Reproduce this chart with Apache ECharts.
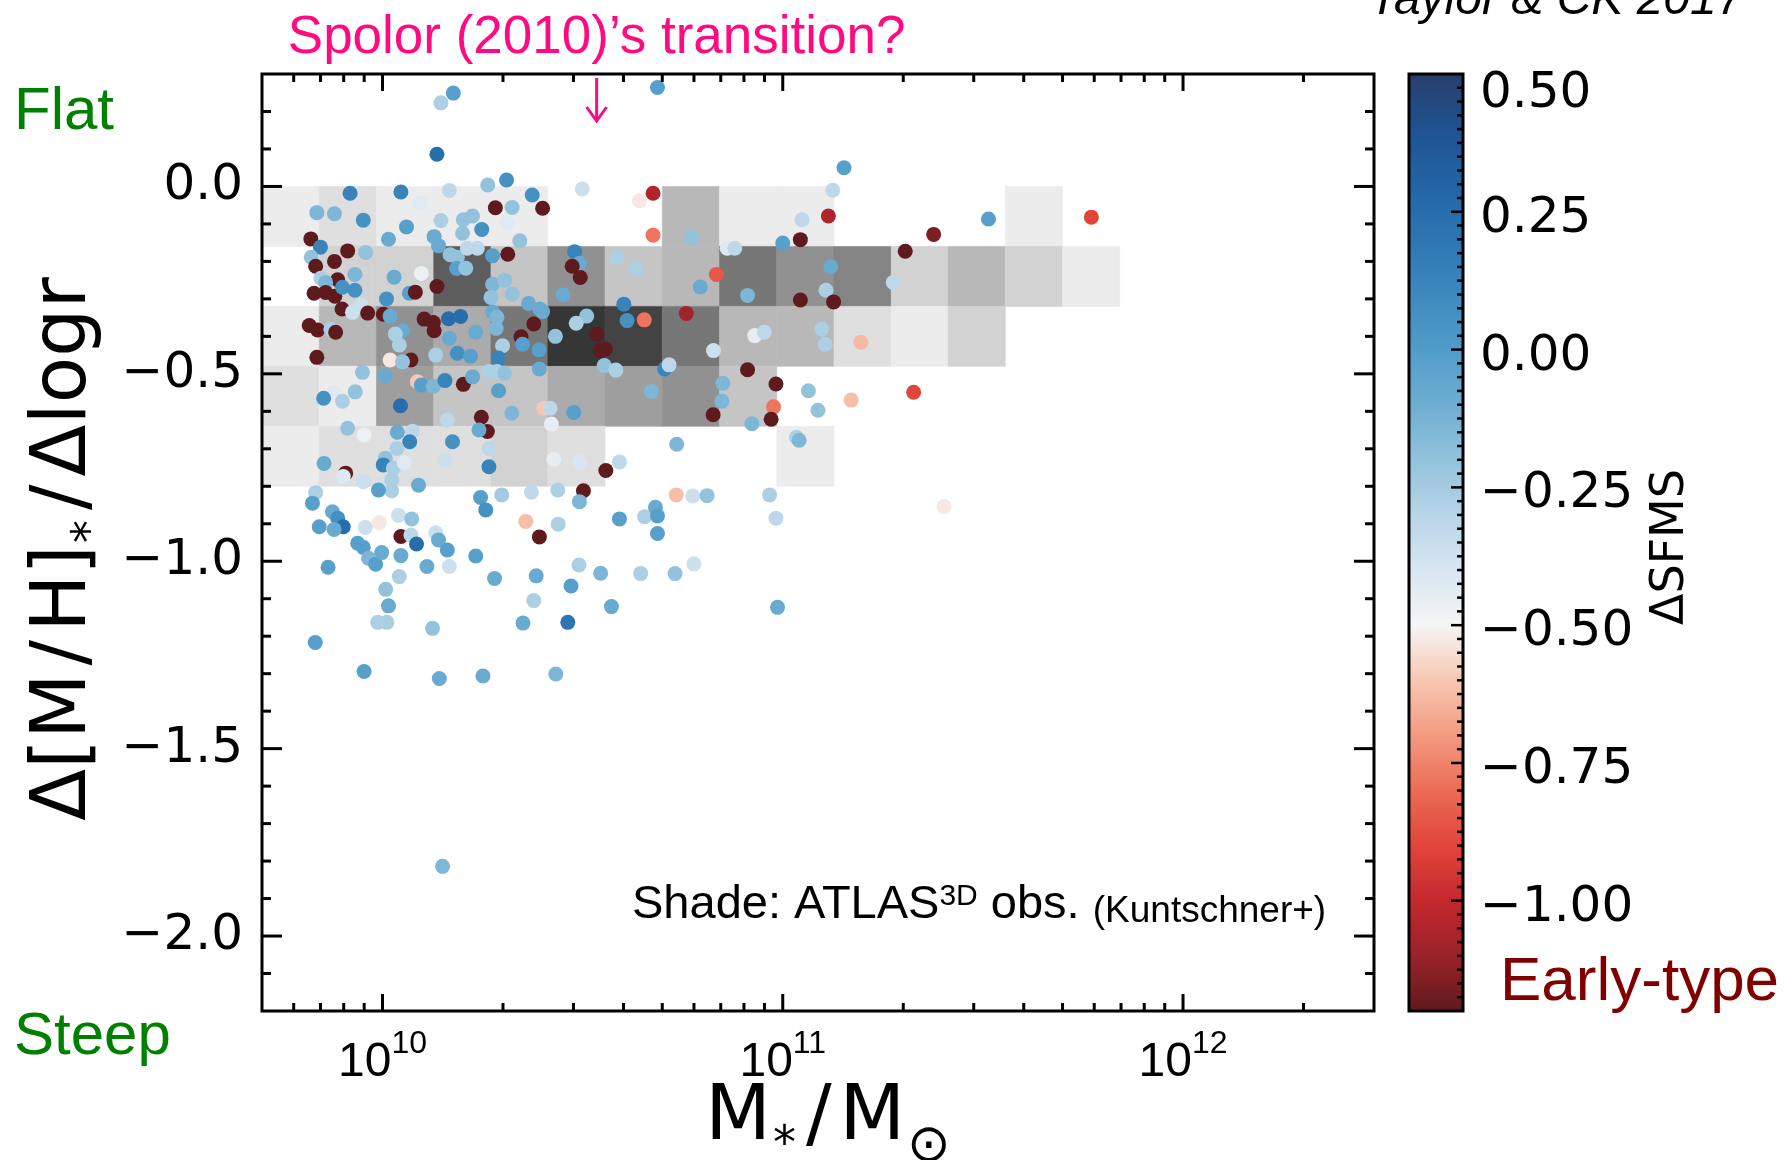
<!DOCTYPE html>
<html>
<head>
<meta charset="utf-8">
<script src="https://cdn.jsdelivr.net/npm/echarts@6/dist/echarts.min.js"></script>
<style>
  html, body { margin: 0; padding: 0; background: #fff; }
  #chart { width: 1792px; height: 1160px; }
</style>
</head>
<body>
<div id="chart"></div>
<script>
// ---------------------------------------------------------------------------
// Galaxy sample: log stellar mass, metallicity gradient, distance from SFMS
// ---------------------------------------------------------------------------
const LOG_MASS = [
  10.177, 10.146, 10.136, 10.263, 9.919, 10.046, 10.167, 10.093, 9.836, 9.880,
  9.952, 10.060, 10.146, 10.202, 10.225, 10.248, 10.200, 10.282, 10.015, 10.129,
  10.140, 9.821, 9.845, 9.822, 9.913, 9.958, 9.833, 9.880, 10.169, 10.187,
  10.212, 10.237, 10.185, 10.208, 10.275, 9.931, 9.888, 9.846, 9.858, 10.029,
  10.097, 10.136, 9.829, 9.858, 9.881, 9.900, 9.931, 10.010, 10.067, 10.082,
  10.275, 10.271, 9.899, 9.925, 9.946, 9.963, 10.002, 10.019, 10.104, 10.127,
  10.165, 10.195, 9.817, 9.838, 9.871, 10.050, 10.129, 10.233, 10.275, 9.883,
  10.032, 10.167, 9.836, 10.019, 10.071, 10.133, 10.187, 10.220, 10.042, 10.050,
  9.950, 10.007, 10.087, 10.097, 10.127, 10.156, 10.202, 10.225, 10.266, 9.878,
  9.900, 9.932, 9.853, 10.045, 10.162, 10.247, 10.262, 10.241, 9.913, 9.954,
  10.037, 10.075, 10.068, 10.175, 10.036, 9.854, 9.908, 9.902, 10.007, 10.002,
  10.027, 10.054, 10.157, 10.266, 10.266, 9.952, 10.023, 10.023, 9.990, 10.090,
  9.833, 9.825, 9.875, 9.888, 9.902, 9.879, 9.842, 9.957, 9.992, 10.040,
  10.073, 10.046, 10.071, 10.085, 10.133, 10.140, 10.162, 10.245, 10.258, 9.938,
  9.952, 9.965, 9.983, 9.998, 10.046, 9.864, 10.111, 10.167, 10.233, 10.042,
  10.008, 10.015, 9.988, 10.011, 10.125, 10.280, 9.832, 9.954, 10.142, 10.251,
  10.150, 10.687, 10.310, 10.499, 10.374, 10.324, 10.400, 10.311, 10.343, 10.642,
  10.676, 10.676, 10.772, 10.861, 10.880, 11.000, 11.044, 11.048, 10.313, 10.480,
  10.492, 10.474, 10.494, 10.586, 10.633, 10.834, 10.794, 10.912, 11.044, 10.305,
  10.324, 10.451, 10.365, 10.393, 10.400, 10.603, 10.510, 10.484, 10.611, 10.654,
  10.759, 10.286, 10.284, 10.378, 10.346, 10.350, 10.300, 10.391, 10.290, 10.432,
  10.536, 10.557, 10.544, 10.554, 10.583, 10.705, 10.716, 10.827, 10.930, 10.954,
  10.912, 10.983, 10.977, 10.971, 11.064, 10.850, 10.848, 10.826, 10.286, 10.305,
  10.392, 10.290, 10.323, 10.403, 10.419, 10.478, 10.672, 10.422, 10.923, 11.171,
  11.327, 11.088, 10.428, 10.492, 10.558, 10.592, 10.735, 11.034, 11.041, 10.298,
  10.372, 10.438, 10.502, 10.492, 10.734, 10.775, 10.811, 10.967, 10.983, 11.403,
  10.358, 10.392, 10.439, 10.592, 10.655, 10.682, 10.687, 10.687, 10.491, 10.545,
  10.645, 10.731, 10.778, 10.384, 10.471, 10.378, 10.572, 10.351, 10.463, 10.987,
  10.433, 11.306, 11.377, 11.514, 11.771, 11.276, 11.153, 11.125, 11.114, 11.120,
  11.108, 11.127, 11.097, 11.106, 11.195
];

const METAL_GRADIENT = [
  0.249, 0.223, 0.086, 0.004, -0.018, -0.015, -0.011, -0.045, -0.070, -0.073,
  -0.090, -0.108, -0.091, -0.089, -0.079, -0.115, -0.125, -0.057, -0.141, -0.134,
  -0.158, -0.140, -0.162, -0.189, -0.172, -0.176, -0.213, -0.200, -0.182, -0.189,
  -0.165, -0.165, -0.219, -0.218, -0.185, -0.235, -0.249, -0.245, -0.256, -0.242,
  -0.232, -0.267, -0.285, -0.283, -0.293, -0.269, -0.277, -0.300, -0.285, -0.282,
  -0.261, -0.296, -0.327, -0.336, -0.317, -0.338, -0.341, -0.346, -0.354, -0.363,
  -0.353, -0.347, -0.371, -0.383, -0.381, -0.385, -0.385, -0.389, -0.335, -0.389,
  -0.394, -0.405, -0.456, -0.463, -0.463, -0.450, -0.445, -0.453, -0.423, -0.468,
  -0.496, -0.505, -0.521, -0.530, -0.533, -0.518, -0.528, -0.508, -0.494, -0.549,
  -0.573, -0.548, -0.565, -0.585, -0.623, -0.616, -0.654, -0.650, -0.645, -0.663,
  -0.656, -0.653, -0.681, -0.681, -0.699, -0.739, -0.765, -0.774, -0.725, -0.743,
  -0.752, -0.737, -0.730, -0.748, -0.699, -0.788, -0.783, -0.812, -0.810, -0.797,
  -0.817, -0.845, -0.868, -0.885, -0.908, -0.915, -0.908, -0.910, -0.897, -0.877,
  -0.887, -0.934, -0.930, -0.954, -0.924, -0.943, -0.970, -0.830, -0.863, -0.952,
  -0.963, -0.992, -1.008, -0.977, -0.985, -1.016, -1.014, -1.014, -0.986, -1.041,
  -1.075, -1.119, -1.163, -1.163, -1.179, -1.046, -1.217, -1.294, -1.313, -1.306,
  -1.814, 0.264, 0.017, -0.007, -0.023, -0.056, -0.058, -0.096, -0.145, -0.038,
  -0.018, -0.130, -0.136, -0.165, -0.165, -0.151, -0.142, -0.089, -0.181, -0.174,
  -0.205, -0.213, -0.243, -0.190, -0.221, -0.235, -0.268, -0.291, -0.303, -0.250,
  -0.287, -0.289, -0.312, -0.327, -0.334, -0.314, -0.346, -0.365, -0.358, -0.356,
  -0.339, -0.349, -0.379, -0.367, -0.401, -0.421, -0.425, -0.436, -0.458, -0.400,
  -0.394, -0.434, -0.438, -0.478, -0.490, -0.487, -0.476, -0.438, -0.398, -0.389,
  -0.489, -0.527, -0.588, -0.621, -0.545, -0.525, -0.573, -0.609, -0.494, -0.498,
  -0.487, -0.545, -0.605, -0.592, -0.592, -0.603, -0.547, -0.634, -0.633, -0.570,
  -0.549, -0.597, -0.728, -0.736, -0.758, -0.735, -0.688, -0.669, -0.677, -0.823,
  -0.816, -0.810, -0.812, -0.841, -0.823, -0.826, -0.825, -0.823, -0.885, -0.854,
  -0.894, -0.935, -0.901, -0.887, -0.881, -0.856, -0.879, -0.926, -1.010, -1.032,
  -1.033, -1.033, -1.007, -1.039, -1.066, -1.105, -1.121, -1.165, -1.163, -1.123,
  -1.301, -0.173, -0.128, -0.087, -0.082, -0.256, 0.050, -0.010, -0.079, -0.214,
  -0.277, -0.308, -0.381, -0.421, -0.416
];

const DELTA_SFMS = [
  -0.02, -0.27, 0.25, -0.2, 0.13, 0.13, -0.32, -0.42, -0.14, -0.14,
  0.06, -0.02, -0.27, -0.2, -0.2, 0.06, -0.2, -1.2, -0.08, -0.08,
  -0.08, -1.2, 0.13, -0.2, -1.2, -0.2, -1.2, -1.2, -0.2, -0.2,
  -0.32, -0.32, -0.02, -0.2, -0.02, -0.14, -1.2, -0.27, -0.14, -0.08,
  -0.47, -1.2, -1.2, -1.2, -1.2, 0.06, 0.06, 0.06, -0.02, -1.2,
  -0.14, -0.2, -1.2, -0.36, -0.36, -1.2, -1.2, -0.08, -1.2, -1.2,
  0.25, 0.25, -1.2, -1.2, -0.27, -0.08, -1.2, -0.08, -0.08, -1.2,
  -0.27, -0.08, -1.2, -0.53, -1.2, -0.27, 0.06, -0.02, -0.27, -0.2,
  -0.2, -0.08, -0.6, -0.02, -0.14, 0.13, -1.2, -0.08, -0.27, -0.42,
  -0.27, -0.2, 0.06, 0.25, -0.32, -1.2, -1.2, -0.08, -0.2, -0.47,
  -0.08, -0.32, 0.13, 0.06, -0.27, -0.08, -1.2, -0.42, -0.2, 0.13,
  -0.27, -0.42, -0.36, 0.13, -0.32, -0.36, -0.27, -0.27, -0.02, -0.08,
  -0.27, -0.02, -0.08, 0.06, 0.25, -0.08, -0.02, -0.36, -0.53, -0.36,
  -0.2, -1.2, -0.32, 0.25, -0.36, -0.08, -0.02, -0.02, 0.06, -0.02,
  -0.02, -0.14, -0.02, -0.08, -0.08, -0.02, -0.08, -0.36, -0.02, -0.27,
  -0.2, -0.08, -0.27, -0.27, -0.2, -0.08, -0.02, -0.02, -0.08, -0.08,
  -0.14, -0.02, 0.06, -0.36, 0.06, -0.2, -1.2, -0.42, -0.2, -0.53,
  -1.05, -0.78, -0.2, -0.42, -0.32, -0.02, -1.2, -0.32, -1.2, 0.13,
  -0.08, -1.2, -1.2, -0.27, -0.27, -0.85, -0.08, -0.14, -1.2, -0.2,
  -0.2, -0.08, -0.08, -0.08, -0.08, 0.13, -0.2, -0.27, 0.06, -0.78,
  -1.08, -0.14, -0.14, -1.2, -1.2, -0.02, -0.27, -0.02, 0.13, -0.2,
  -1.2, -1.2, -1.2, -0.2, -0.27, 0.13, -0.32, -0.36, -0.45, -0.32,
  -1.2, -1.2, -0.78, -1.2, -0.2, -0.14, -0.14, -1.2, -0.27, -0.2,
  -0.08, -0.02, -0.14, -0.6, -0.32, -0.02, -0.14, -0.45, -0.14, -0.62,
  -0.9, -0.2, -0.45, -0.4, -1.2, -0.32, -0.14, -0.27, -0.14, -0.24,
  -0.32, -0.27, -1.2, -0.14, -0.62, -0.36, -0.2, -0.27, -0.32, -0.53,
  -0.62, -1.2, -0.27, -0.02, -0.27, -0.08, -0.02, -0.02, -0.27, -0.14,
  -0.27, -0.2, -0.36, -0.08, -0.02, -0.27, -0.08, -0.08, 0.2, -0.08,
  -0.14, -1.2, -1.15, -0.02, -0.9, -0.32, -0.02, -0.32, -1.05, -0.08,
  -0.27, -1.2, -0.27, -0.27, -0.63
];

// ATLAS3D observed distribution (2D histogram counts, shaded grey)
const MASS_BIN_EDGES = [9.699, 9.842, 9.985, 10.128, 10.271, 10.413, 10.556, 10.699,
                        10.842, 10.985, 11.128, 11.271, 11.413, 11.556, 11.699, 11.842];
const GRADIENT_BIN_EDGES = [0.0, -0.16, -0.32, -0.48, -0.64, -0.80];
const HIST_COUNTS = [
  [1, 2, 1, 1, 1, 0, 0, 5, 1, 1, 0, 0, 0, 1, 0],
  [0, 3, 3, 12, 4, 8, 4, 5, 10, 8, 9, 3, 5, 3, 1],
  [1, 5, 8, 6, 10, 15, 14, 10, 5, 5, 2, 1, 3, 0, 0],
  [2, 1, 7, 4, 4, 6, 7, 8, 4, 0, 0, 0, 0, 0, 0],
  [1, 2, 2, 2, 3, 2, 0, 0, 0, 1, 0, 0, 0, 0, 0]
];

// Axis ranges
const X_RANGE = [Math.log10(5e9), Math.log10(3e12)];
const Y_RANGE = [-2.2, 0.3];
const CBAR_RANGE = [-1.2, 0.5];
const Y_MAJOR_LABELS = [0.0, -0.5, -1.0, -1.5, -2.0];
const CBAR_LABELS = [0.5, 0.25, 0.0, -0.25, -0.5, -0.75, -1.0];
const TRANSITION_LOG_MASS = 10.535;

// Diverging colour table, evenly spaced from -1.2 (bottom) to 0.5 (top)
const CMAP = ['#5e1a1d', '#9b2229', '#c4282e', '#e1453a', '#ec6b55', '#f39a80',
              '#f8c7b2', '#f5f5f5', '#d8e6f1', '#b8d5e8', '#93c2dc', '#6eaed2',
              '#519cc9', '#3d89be', '#2d76b2', '#2264a4', '#1f5290', '#283d6d'];

const NUM_FONT = '"DejaVu Sans", sans-serif';
const SANS_FONT = '"Liberation Sans", Arial, sans-serif';

// ---------------------------------------------------------------------------
const scatterData = LOG_MASS.map((m, i) => [m, METAL_GRADIENT[i], DELTA_SFMS[i]]);

const cellData = [];
HIST_COUNTS.forEach((row, j) => {
  row.forEach((n, i) => {
    if (n > 0) {
      cellData.push([MASS_BIN_EDGES[i], GRADIENT_BIN_EDGES[j],
                     MASS_BIN_EDGES[i + 1], GRADIENT_BIN_EDGES[j + 1], n]);
    }
  });
});

// tick positions along the log-mass axis: 2..9 x 10^n minor, 10^n major
const X_TICKS = [];
for (let e = 9; e <= 12; e++) {
  for (let k = 1; k <= 9; k++) {
    const v = e + Math.log10(k);
    if (v > X_RANGE[0] + 1e-6 && v < X_RANGE[1] - 1e-6) X_TICKS.push({ v, major: k === 1, exp: e });
  }
}
const Y_TICKS = [];
for (let i = -21; i <= 2; i++) Y_TICKS.push({ v: i / 10, major: i % 5 === 0 });
const CBAR_TICKS = [];
for (let i = -47; i <= 19; i++) CBAR_TICKS.push({ v: i * 0.025, major: i % 10 === 0 });

function minusFmt(v, digits) {
  const s = Math.abs(v).toFixed(digits);
  return v < -1e-9 ? '\u2212' + s : s;
}

function renderCell(params, api) {
  const p0 = api.coord([api.value(0), api.value(1)]);
  const p1 = api.coord([api.value(2), api.value(3)]);
  const g = Math.round(249 - 13 * api.value(4));
  const c = 'rgb(' + g + ',' + g + ',' + g + ')';
  return {
    type: 'rect',
    shape: {
      x: Math.min(p0[0], p1[0]), y: Math.min(p0[1], p1[1]),
      width: Math.abs(p1[0] - p0[0]), height: Math.abs(p1[1] - p0[1])
    },
    style: { fill: c, stroke: c, lineWidth: 0.6 }
  };
}

function renderFrame(params, api) {
  const cs = params.coordSys;
  const L = cs.x, T = cs.y, R = cs.x + cs.width, B = cs.y + cs.height;
  const st = { stroke: '#000', lineWidth: 3 };
  const kids = [];
  X_TICKS.forEach(t => {
    const px = api.coord([t.v, Y_RANGE[0]])[0];
    const len = t.major ? 17 : 8;
    kids.push({ type: 'line', shape: { x1: px, y1: B, x2: px, y2: B - len }, style: st });
    kids.push({ type: 'line', shape: { x1: px, y1: T, x2: px, y2: T + len }, style: st });
    if (t.major) {
      kids.push({
        type: 'text', x: px, y: B + 52,
        style: {
          text: '{b|10}{s|' + t.exp + '}', align: 'center', verticalAlign: 'middle',
          rich: {
            b: { fontSize: 48, fontFamily: SANS_FONT, fill: '#000', verticalAlign: 'middle' },
            s: { fontSize: 32, fontFamily: SANS_FONT, fill: '#000', verticalAlign: 'middle', padding: [0, 0, 38, 0] }
          }
        }
      });
    }
  });
  Y_TICKS.forEach(t => {
    const py = api.coord([X_RANGE[0], t.v])[1];
    const len = t.major ? 20 : 9;
    kids.push({ type: 'line', shape: { x1: L, y1: py, x2: L + len, y2: py }, style: st });
    kids.push({ type: 'line', shape: { x1: R, y1: py, x2: R - len, y2: py }, style: st });
  });
  Y_MAJOR_LABELS.forEach(v => {
    const py = api.coord([X_RANGE[0], v])[1];
    kids.push({
      type: 'text', x: L - 19, y: py,
      style: { text: minusFmt(v, 1), fontSize: 50, fontFamily: NUM_FONT, fill: '#000',
               align: 'right', verticalAlign: 'middle' }
    });
  });
  kids.push({ type: 'rect', shape: { x: L, y: T, width: R - L, height: B - T },
              style: { fill: 'transparent', stroke: '#000', lineWidth: 3 } });
  return { type: 'group', children: kids };
}

function renderTransition(params, api) {
  const cs = params.coordSys;
  const T = cs.y;
  const px = api.coord([api.value(0), api.value(1)])[0];
  const col = '#ff0a80';
  const st = { stroke: col, lineWidth: 3, fill: 'transparent' };
  return {
    type: 'group',
    children: [
      { type: 'line', shape: { x1: px, y1: T + 4, x2: px, y2: T + 47 }, style: st },
      { type: 'polyline', shape: { points: [[px - 10, T + 33], [px, T + 47], [px + 10, T + 33]] }, style: st },
      { type: 'text', x: px, y: T - 36,
        style: { text: 'Spolor (2010)\u2019s transition?', fontSize: 53, fontFamily: SANS_FONT,
                 fill: col, align: 'center', verticalAlign: 'middle' } }
    ]
  };
}

function renderColorbar(params, api) {
  const cs = params.coordSys;
  const L = cs.x, T = cs.y, R = cs.x + cs.width, B = cs.y + cs.height;
  const stops = CMAP.map((c, i) => ({ offset: i / (CMAP.length - 1), color: c }));
  const kids = [{
    type: 'rect', shape: { x: L, y: T, width: R - L, height: B - T },
    style: { fill: new echarts.graphic.LinearGradient(0, 1, 0, 0, stops) }
  }];
  const st = { stroke: '#000', lineWidth: 2.5 };
  CBAR_TICKS.forEach(t => {
    const py = api.coord([0, t.v])[1];
    const len = t.major ? 11 : 5;
    kids.push({ type: 'line', shape: { x1: R - 1, y1: py, x2: R - 1 - len, y2: py }, style: st });
  });
  kids.push({ type: 'rect', shape: { x: L, y: T, width: R - L, height: B - T },
              style: { fill: 'transparent', stroke: '#000', lineWidth: 3 } });
  CBAR_LABELS.forEach(v => {
    const py = api.coord([0, v])[1];
    const atTop = Math.abs(v - CBAR_RANGE[1]) < 1e-9;
    kids.push({
      type: 'text', x: R + 17, y: atTop ? T + 20 : py + 7,
      style: { text: minusFmt(v, 2), fontSize: 50, fontFamily: NUM_FONT, fill: '#000',
               align: 'left', verticalAlign: 'middle' }
    });
  });
  return { type: 'group', children: kids };
}

const chart = echarts.init(document.getElementById('chart'), null, { renderer: 'canvas' });

const hiddenAxis = {
  axisLine: { show: false }, axisTick: { show: false },
  axisLabel: { show: false }, splitLine: { show: false }
};

const titleRich = {
  m: { fontSize: 76, fontFamily: NUM_FONT, fill: '#000', verticalAlign: 'middle' },
  d: { fontSize: 76, fontFamily: NUM_FONT, fill: '#000', verticalAlign: 'middle', padding: [0, 8, 0, 8] },
  s: { fontSize: 46, fontFamily: NUM_FONT, fill: '#000', verticalAlign: 'middle', padding: [54, 2, 0, 2] },
  o: { fontSize: 52, fontFamily: NUM_FONT, fill: '#000', verticalAlign: 'middle', padding: [56, 0, 0, 2] }
};

chart.setOption({
  animation: false,
  backgroundColor: '#fff',
  grid: [
    { left: 262, top: 74, width: 1112, height: 937, show: false },
    { left: 1409, top: 74, width: 54, height: 937, show: false }
  ],
  xAxis: [
    Object.assign({ type: 'value', gridIndex: 0, min: X_RANGE[0], max: X_RANGE[1] }, hiddenAxis),
    Object.assign({ type: 'value', gridIndex: 1, min: 0, max: 1 }, hiddenAxis)
  ],
  yAxis: [
    Object.assign({ type: 'value', gridIndex: 0, min: Y_RANGE[0], max: Y_RANGE[1] }, hiddenAxis),
    Object.assign({ type: 'value', gridIndex: 1, min: CBAR_RANGE[0], max: CBAR_RANGE[1] }, hiddenAxis)
  ],
  visualMap: [{
    type: 'continuous', show: false, seriesIndex: 1, dimension: 2,
    min: CBAR_RANGE[0], max: CBAR_RANGE[1], inRange: { color: CMAP }
  }],
  series: [
    {
      type: 'custom', name: 'ATLAS3D', xAxisIndex: 0, yAxisIndex: 0, z: 1,
      dimensions: ['m0', 'g0', 'm1', 'g1', 'n'],
      encode: { x: [0, 2], y: [1, 3] },
      renderItem: renderCell, data: cellData, silent: true
    },
    {
      type: 'scatter', name: 'galaxies', xAxisIndex: 0, yAxisIndex: 0, z: 2,
      symbol: 'circle', symbolSize: 15,
      itemStyle: { opacity: 1, borderWidth: 0 },
      data: scatterData, silent: true
    },
    {
      type: 'custom', name: 'frame', xAxisIndex: 0, yAxisIndex: 0, z: 5, clip: false,
      renderItem: renderFrame, data: [[X_RANGE[0], Y_RANGE[0]]], silent: true
    },
    {
      type: 'custom', name: 'transition', xAxisIndex: 0, yAxisIndex: 0, z: 5, clip: false,
      renderItem: renderTransition, data: [[TRANSITION_LOG_MASS, Y_RANGE[1]]], silent: true
    },
    {
      type: 'custom', name: 'colorbar', xAxisIndex: 1, yAxisIndex: 1, z: 5, clip: false,
      renderItem: renderColorbar, data: [[0, CBAR_RANGE[0]]], silent: true
    }
  ],
  graphic: [
    { type: 'text', x: 14, y: 112, silent: true,
      style: { text: 'Flat', fontSize: 60, fontFamily: SANS_FONT, fill: '#008000',
               align: 'left', verticalAlign: 'middle' } },
    { type: 'text', x: 14, y: 1037, silent: true,
      style: { text: 'Steep', fontSize: 60, fontFamily: SANS_FONT, fill: '#008000',
               align: 'left', verticalAlign: 'middle' } },
    { type: 'text', x: 1500, y: 983, silent: true,
      style: { text: 'Early-type', fontSize: 62, fontFamily: SANS_FONT, fill: '#800000',
               align: 'left', verticalAlign: 'middle' } },
    { type: 'text', x: 1369, y: 1, silent: true,
      style: { text: 'Taylor & CK 2017', fontSize: 48, fontStyle: 'italic', fontFamily: SANS_FONT,
               fill: '#000', align: 'left', verticalAlign: 'middle' } },
    { type: 'text', x: 632, y: 905, silent: true,
      style: {
        text: '{a|Shade: ATLAS}{b|3D}{a| obs. }{c|(Kuntschner+)}',
        align: 'left', verticalAlign: 'middle',
        rich: {
          a: { fontSize: 47, fontFamily: SANS_FONT, fill: '#000', verticalAlign: 'middle' },
          b: { fontSize: 30, fontFamily: SANS_FONT, fill: '#000', verticalAlign: 'middle', padding: [0, 0, 16, 0] },
          c: { fontSize: 37, fontFamily: SANS_FONT, fill: '#000', verticalAlign: 'middle', padding: [14, 0, 0, 0] }
        }
      } },
    { type: 'text', x: 65, y: 549, rotation: Math.PI / 2, silent: true,
      style: {
        text: '{m|\u0394[M}{d|/}{m|H]}{s|*}{d|/}{m|\u0394logr}', align: 'center', verticalAlign: 'middle',
        rich: titleRich
      } },
    { type: 'text', x: 828, y: 1119, silent: true,
      style: {
        text: '{m|M}{s|*}{d|/}{m|M}{o|\u2299}', align: 'center', verticalAlign: 'middle',
        rich: titleRich
      } },
    { type: 'text', x: 1671, y: 547, rotation: Math.PI / 2, silent: true,
      style: { text: '\u0394SFMS', fontSize: 46, fontFamily: NUM_FONT, fill: '#000',
               align: 'center', verticalAlign: 'middle' } }
  ]
});
</script>
</body>
</html>
